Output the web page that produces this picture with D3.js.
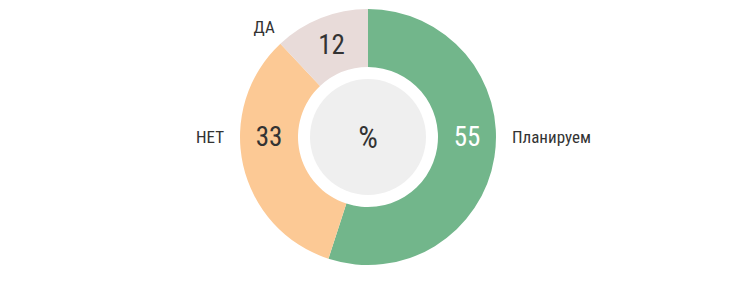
<!DOCTYPE html>
<meta charset="utf-8">
<script src="https://cdnjs.cloudflare.com/ajax/libs/d3/7.8.5/d3.min.js"></script>
<style>
  body { margin: 0; background: #fff; }
  text { font-family: "Liberation Sans Narrow", "Roboto", sans-serif; font-stretch: condensed; fill: #333; }
</style>
<div id="chart"></div>
<script>
// данные
const categories = ["Планируем", "НЕТ", "ДА"];
const values = [55, 33, 12];
const colors = ["#72b68b", "#fcc995", "#e8dbd9"];
const valueColors = ["#ffffff", "#333333", "#333333"];
const centerLabel = "%";

const width = 750, height = 296;
const cx = 368, cy = 137;
const outerR = 128, innerR = 70, holeR = 58;

const svg = d3.select("#chart")
  .append("svg")
    .attr("width", width)
    .attr("height", height)
  .append("g")
    .attr("transform", `translate(${cx},${cy})`);

const data = categories.map((c, i) => ({ cat: c, value: values[i], color: colors[i], vcolor: valueColors[i] }));

const pie = d3.pie().sort(null).value(d => d.value);
const arcs = pie(data);

const arc = d3.arc().innerRadius(innerR).outerRadius(outerR);

svg.selectAll("path.slice")
  .data(arcs)
  .join("path")
    .attr("class", "slice")
    .attr("d", arc)
    .attr("fill", d => d.data.color);

// серый круг в центре
svg.append("circle")
  .attr("r", holeR)
  .attr("fill", "#efefef");

svg.append("text")
  .attr("text-anchor", "middle")
  .attr("dy", "0.35em")
  .style("font-size", "31px")
  .text(centerLabel);

// угол подписи: горизонталь, если сектор её пересекает, иначе центр сектора
function labelAngle(d) {
  for (const a of [Math.PI / 2, Math.PI * 3 / 2]) {
    if (d.startAngle <= a && d.endAngle >= a) return a;
  }
  return null;
}

const midR = (innerR + outerR) / 2;

svg.selectAll("text.val")
  .data(arcs)
  .join("text")
    .attr("class", "val")
    .attr("text-anchor", "middle")
    .attr("dy", "0.35em")
    .attr("transform", d => {
      const a = labelAngle(d);
      if (a === null) return `translate(${arc.centroid(d)})`;
      return `translate(${midR * Math.sin(a)},${-midR * Math.cos(a)})`;
    })
    .style("font-size", "27px")
    .style("fill", d => d.data.vcolor)
    .text(d => d.data.value);

const labR = outerR + 16;
svg.selectAll("text.cat")
  .data(arcs)
  .join("text")
    .attr("class", "cat")
    .attr("dy", "0.35em")
    .attr("text-anchor", d => {
      const a = labelAngle(d) ?? (d.startAngle + 0.05);
      return Math.sin(a) >= 0 ? "start" : "end";
    })
    .attr("transform", d => {
      const a = labelAngle(d) ?? (d.startAngle + 0.05);
      return `translate(${labR * Math.sin(a)},${-labR * Math.cos(a)})`;
    })
    .style("font-size", "17px")
    .text(d => d.data.cat);
</script>
